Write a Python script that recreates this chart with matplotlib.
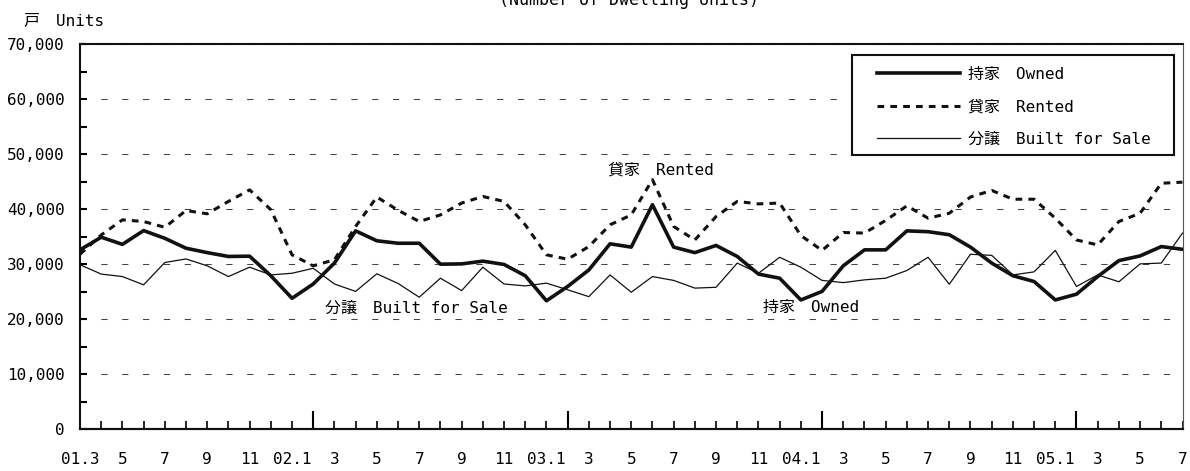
import matplotlib
matplotlib.use('Agg')
import matplotlib.pyplot as plt
from matplotlib.patches import Rectangle
import numpy as np

plt.rcParams['font.family'] = ['DejaVu Sans Mono', 'Noto Sans CJK JP']

# monthly starts, 2001.3 .. 2005.7
owned = [32600, 34900, 33600, 36100, 34700, 32900, 32100, 31400, 31450, 27900,
         23800, 26400, 30200, 36050, 34250, 33800, 33800, 30000, 30050, 30550,
         29950, 27900, 23350, 25950, 28950, 33700, 33100, 40800, 33100, 32100,
         33400, 31400, 28200, 27450, 23500, 25050, 29700, 32600, 32600, 36050,
         35900, 35350, 33100, 30200, 27900, 26850, 23500, 24550, 27750, 30650,
         31500, 33200, 32700]
rented = [31800, 35300, 38050, 37750, 36700, 39750, 39150, 41400, 43500, 39900,
          31700, 29700, 30800, 36850, 42200, 39800, 37750, 38950, 41100, 42300,
          41400, 37150, 31700, 30900, 33200, 37150, 38950, 45350, 36850, 34400,
          38650, 41400, 40950, 41100, 35200, 32500, 35750, 35650, 37950, 40600,
          38350, 39250, 42200, 43400, 41800, 41800, 38350, 34400, 33500, 37750,
          39250, 44700, 44900]
built = [29900, 28200, 27750, 26250, 30300, 30950, 29700, 27750, 29450, 28050,
         28350, 29250, 26400, 25050, 28250, 26500, 24000, 27450, 25200, 29450,
         26400, 26050, 26550, 25350, 24100, 28050, 24900, 27750, 27050, 25650,
         25800, 30200, 28350, 31250, 29450, 27050, 26650, 27150, 27450, 28850,
         31250, 26350, 31800, 31600, 28050, 28600, 32500, 25950, 28050, 26800,
         30050, 30200, 35650]
x_labels = ['01.3', '5', '7', '9', '11',
            '02.1', '3', '5', '7', '9', '11',
            '03.1', '3', '5', '7', '9', '11',
            '04.1', '3', '5', '7', '9', '11',
            '05.1', '3', '5', '7']

n = len(owned)
x = np.arange(n)
months = [(2 + i) % 12 + 1 for i in range(n)]
year_ticks = [i for i in range(n) if months[i] == 2]

fig = plt.figure(figsize=(11.9, 4.71), dpi=100)
ax = fig.add_axes([80 / 1190, (471 - 429.3) / 471, 1102.5 / 1190, 385.3 / 471])

ax.plot(x, built, color='#111111', lw=0.9, label='分譲\u3000Built for Sale', zorder=3)
ax.plot(x, rented, color='#111111', lw=2.2, dashes=(2.2, 2), label='貸家\u3000Rented', zorder=4)
ax.plot(x, owned, color='#111111', lw=2.6, label='持家\u3000Owned', zorder=5)

ax.set_xlim(0, n - 1)
ax.set_ylim(0, 70000)

yt = list(range(0, 70001, 10000))
ax.set_yticks(yt)
ax.set_yticklabels([f'{v:,}' for v in yt])
ax.set_yticks(range(5000, 70000, 10000), minor=True)
ax.tick_params(axis='y', which='both', direction='in', length=5, width=1.5, pad=11, labelsize=11.5)

ax.set_xticks(x[::2])
ax.set_xticklabels(x_labels)
ax.set_xticks(x[1::2], minor=True)
ax.tick_params(axis='x', which='both', direction='in', length=5.5, width=1.2, pad=16, labelsize=11.5)

sec = ax.secondary_xaxis('bottom')
sec.set_xticks(year_ticks)
sec.set_xticklabels([])
sec.tick_params(direction='in', length=13, width=1.5)
sec.spines['bottom'].set_linewidth(1.5)

ax.yaxis.grid(True, which='major', linestyle=(0, (6, 14)), color='#444444', lw=0.75)

for s in ['left', 'bottom', 'top']:
    ax.spines[s].set_linewidth(1.5)
    ax.spines[s].set_color('#111111')
ax.spines['right'].set_linewidth(0.8)
ax.spines['right'].set_color('#555555')

# legend box drawn separately so the inner padding matches the original
ax.add_patch(Rectangle((0.700, 0.712), 0.292, 0.2594, transform=ax.transAxes,
                       facecolor='white', edgecolor='#111111', lw=1.5, zorder=6))
handles, labels = ax.get_legend_handles_labels()
leg = ax.legend(handles[::-1], labels[::-1], loc='upper left', bbox_to_anchor=(0.7225, 0.941),
                frameon=False, borderaxespad=0, borderpad=0, handlelength=5.2,
                handletextpad=0.5, labelspacing=1.1, fontsize=11.5)
leg.set_zorder(7)

ax.text(24.9, 47140, '貸家\u3000Rented', ha='left', va='center', fontsize=11.5)
ax.text(11.56, 22050, '分譲\u3000Built for Sale', ha='left', va='center', fontsize=11.5)
ax.text(32.2, 22050, '持家\u3000Owned', ha='left', va='center', fontsize=11.5)

fig.text(0.5286, 1 - 5 / 471, '(Number of Dwelling Units)', ha='center', va='baseline', fontsize=12)
fig.text(24 / 1190, 1 - 21 / 471, '戸\u3000Units', ha='left', va='center', fontsize=11.5)

fig.savefig('out.png', dpi=100)
